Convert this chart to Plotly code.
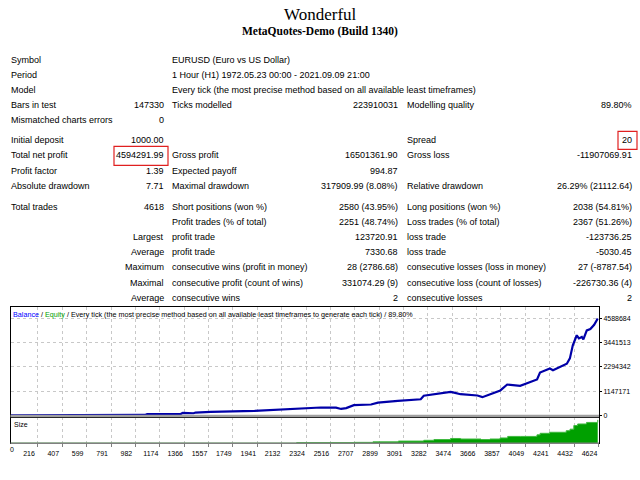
import plotly.graph_objects as go

W, H = 640, 480

# balance curve: trade number vs balance
trade_no = [0, 1060, 1075, 1340, 1355, 1380, 1440, 1455, 1560, 1575, 1920, 2130, 2230,
            2440, 2560, 2600, 2640, 2700, 2835, 2890, 3046, 3226, 3250, 3328, 3461, 3480,
            3539, 3672, 3711, 3773, 3852, 3906, 4008, 4141, 4164, 4242, 4266, 4375, 4399,
            4422, 4453, 4470, 4493, 4505, 4532, 4560, 4590, 4618]
balance = [1000, 15000, 60000, 70000, 110000, 100000, 95000, 130000, 140000, 160000,
           210000, 280000, 330000, 370000, 360000, 300000, 340000, 480000, 510000, 600000,
           680000, 760000, 930000, 1000000, 1110000, 1090000, 1000000, 940000, 860000,
           1000000, 1180000, 1460000, 1400000, 1700000, 2030000, 2220000, 2140000, 2450000,
           2700000, 3320000, 3800000, 3650000, 3720000, 3600000, 4030000, 4100000, 4300000,
           4595292]

# lot size panel
size_trade = [0, 2240, 2250, 2700, 2850, 3050, 3250, 3330, 3460, 3540, 3700, 3770, 3850,
              3910, 4010, 4140, 4165, 4240, 4370, 4400, 4430, 4460, 4530, 4618]
size_lots = [0, 0, 1, 1.5, 2.5, 4, 5.5, 7, 9, 8, 7, 8, 10, 13, 13, 16, 19, 21, 24, 27, 34,
             37, 40, 45]

x_ticks = [216, 407, 599, 791, 982, 1174, 1366, 1557, 1749, 1941, 2132, 2324, 2516, 2707,
           2899, 3091, 3282, 3474, 3666, 3857, 4049, 4241, 4432, 4624]
y_ticks = [0, 1147171, 2294342, 3441513, 4588684]

info_labels = ["Symbol", "Period", "Model"]
info_values = ["EURUSD (Euro vs US Dollar)",
               "1 Hour (H1) 1972.05.23 00:00 - 2021.09.09 21:00",
               "Every tick (the most precise method based on all available least timeframes)"]

stats_rows = [
    ("Bars in test", "147330", "Ticks modelled", "223910031", "Modelling quality", "89.80%"),
    ("Mismatched charts errors", "0", "", "", "", ""),
    ("Initial deposit", "1000.00", "", "", "Spread", "20"),
    ("Total net profit", "4594291.99", "Gross profit", "16501361.90", "Gross loss", "-11907069.91"),
    ("Profit factor", "1.39", "Expected payoff", "994.87", "", ""),
    ("Absolute drawdown", "7.71", "Maximal drawdown", "317909.99 (8.08%)",
     "Relative drawdown", "26.29% (21112.64)"),
    ("Total trades", "4618", "Short positions (won %)", "2580 (43.95%)",
     "Long positions (won %)", "2038 (54.81%)"),
    ("", "", "Profit trades (% of total)", "2251 (48.74%)",
     "Loss trades (% of total)", "2367 (51.26%)"),
    ("", "Largest", "profit trade", "123720.91", "loss trade", "-123736.25"),
    ("", "Average", "profit trade", "7330.68", "loss trade", "-5030.45"),
    ("", "Maximum", "consecutive wins (profit in money)", "28 (2786.68)",
     "consecutive losses (loss in money)", "27 (-8787.54)"),
    ("", "Maximal", "consecutive profit (count of wins)", "331074.29 (9)",
     "consecutive loss (count of losses)", "-226730.36 (4)"),
    ("", "Average", "consecutive wins", "2", "consecutive losses", "2"),
]

# layout (pixels)
info_y = [60, 75, 90]
row_y = [105.5, 120, 141, 156, 171.5, 186.5, 207.5, 223, 238, 253, 268, 284, 299]
col_x = [(8.5, "left"), (166, "right"), (170, "left"), (400, "right"), (405, "left"), (634, "right")]
FONT = "Liberation Sans"


def px(x):
    return x / W


def py(y):
    return 1 - y / H


def txt(x, y, s, anchor="left", size=9, **kw):
    return dict(x=px(x), y=py(y), xref="paper", yref="paper", text=s, showarrow=False,
                xanchor=anchor, yanchor="middle", font=dict(family=FONT, size=size, color="black"),
                **kw)


ann = [
    dict(x=0.5, y=py(15), xref="paper", yref="paper", text="Wonderful", showarrow=False,
         yanchor="middle", font=dict(family="Liberation Serif", size=17, color="black")),
    dict(x=0.5, y=py(32), xref="paper", yref="paper", text="<b>MetaQuotes-Demo (Build 1340)</b>",
         showarrow=False, yanchor="middle",
         font=dict(family="Liberation Serif", size=11.5, color="black")),
]
for lab, val, y in zip(info_labels, info_values, info_y):
    ann.append(txt(8.5, y, lab))
    ann.append(txt(170, y, val))
for row, y in zip(stats_rows, row_y):
    for s, (x, a) in zip(row, col_x):
        if s:
            ann.append(txt(x, y, s, a))

ann.append(txt(11, 316, '<span style="color:#0000ff">Balance</span> / '
               '<span style="color:#00a000">Equity</span> / Every tick (the most precise method '
               'based on all available least timeframes to generate each tick) / 89.80%', size=7.2))
ann.append(txt(12, 426, "Size", size=7))
ann.append(txt(12, 451, "0", "center", size=7))

fig = go.Figure()
fig.add_trace(go.Scatter(x=size_trade, y=size_lots, xaxis="x", yaxis="y2", mode="lines",
                         line=dict(color="#40b840", width=1, shape="hv"),
                         fill="tozeroy", fillcolor="#00a000", hoverinfo="skip"))
fig.add_trace(go.Scatter(x=trade_no, y=balance, xaxis="x2", yaxis="y", mode="lines",
                         line=dict(color="#0000a8", width=2.2), hoverinfo="skip"))

x_dom = [px(10.5), px(599)]
grid = dict(showgrid=True, gridcolor="#c8c8c8", griddash="dot", gridwidth=1)
fig.update_layout(
    width=W, height=H, margin=dict(l=0, r=0, t=0, b=0),
    paper_bgcolor="white", plot_bgcolor="white", showlegend=False,
    xaxis=dict(domain=x_dom, anchor="y2", range=[0, 4628], tickvals=x_ticks,
               ticktext=[str(v) for v in x_ticks],
               ticks="outside", ticklen=3, tickcolor="#808080", ticklabelshift=-9,
               tickfont=dict(family=FONT, size=7, color="black"),
               showline=True, linecolor="black", mirror=True, zeroline=False, **grid),
    xaxis2=dict(domain=x_dom, anchor="y", matches="x", tickvals=x_ticks, showticklabels=False,
                showline=True, linecolor="black", mirror=True, zeroline=False, **grid),
    yaxis=dict(domain=[py(418.5), py(308)], anchor="x2", side="right",
               range=[-71000, 5156400], tickvals=y_ticks, ticktext=[str(v) for v in y_ticks],
               ticks="outside", ticklen=2,
               tickcolor="black", tickfont=dict(family=FONT, size=7, color="black"),
               showline=True, linecolor="black", mirror=True, zeroline=False, **grid),
    yaxis2=dict(domain=[py(445), py(419)], anchor="x", range=[0, 50], showticklabels=False,
                showgrid=False, showline=True, linecolor="black", mirror=True, zeroline=False),
    annotations=ann,
    shapes=[
        dict(type="line", xref="paper", yref="paper", x0=x_dom[0], x1=x_dom[1],
             y0=py(417.8), y1=py(417.8), line=dict(color="#a0a0a0", width=2.5), layer="above"),
        dict(type="line", xref="paper", yref="paper", x0=x_dom[0], x1=x_dom[1],
             y0=py(445), y1=py(445), line=dict(color="#808080", width=1.5), layer="above"),
        dict(type="rect", xref="paper", yref="paper", x0=px(114), x1=px(168),
             y0=py(166), y1=py(147), line=dict(color="#e02020", width=1.2)),
        dict(type="rect", xref="paper", yref="paper", x0=px(618), x1=px(637),
             y0=py(150), y1=py(132), line=dict(color="#e02020", width=1.2)),
    ],
)

fig.write_html("out.html", config={"displayModeBar": False},
               post_script="document.body.style.margin='0';")
